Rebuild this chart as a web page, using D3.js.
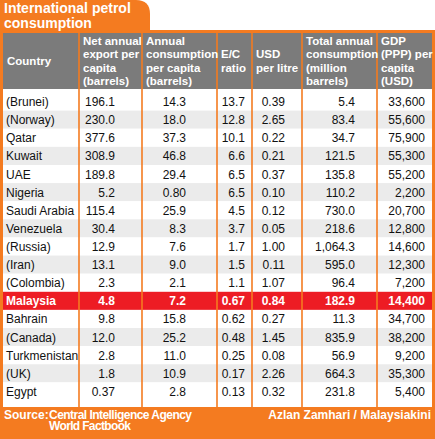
<!DOCTYPE html>
<html><head><meta charset="utf-8">
<script src="https://cdn.jsdelivr.net/npm/d3@7"></script>
<style>body{margin:0;background:#fff}text{font-family:"Liberation Sans",Arial,sans-serif}</style>
</head><body><div id="chart"></div>
<script>
const countries = ["(Brunei)","(Norway)","Qatar","Kuwait","UAE","Nigeria","Saudi Arabia","Venezuela","(Russia)","(Iran)","(Colombia)","Malaysia","Bahrain","(Canada)","Turkmenistan","(UK)","Egypt"]
const netExport = ["196.1","230.0","377.6","308.9","189.8","5.2","115.4","30.4","12.9","13.1","2.3","4.8","9.8","12.0","2.8","1.8","0.37"]
const consumption = ["14.3","18.0","37.3","46.8","29.4","0.80","25.9","8.3","7.6","9.0","2.1","7.2","15.8","25.2","11.0","10.9","2.8"]
const ecRatio = ["13.7","12.8","10.1","6.6","6.5","6.5","4.5","3.7","1.7","1.5","1.1","0.67","0.62","0.48","0.25","0.17","0.13"]
const usdLitre = ["0.39","2.65","0.22","0.21","0.37","0.10","0.12","0.05","1.00","0.11","1.07","0.84","0.27","1.45","0.08","2.26","0.32"]
const totalCons = ["5.4","83.4","34.7","121.5","135.8","110.2","730.0","218.6","1,064.3","595.0","96.4","182.9","11.3","835.9","56.9","664.3","231.8"]
const gdp = ["33,600","55,600","75,900","55,300","55,200","2,200","20,700","12,800","14,600","12,300","7,200","14,400","34,700","38,200","9,200","35,300","5,400"]
const headers = [["Country"],["Net annual","export per","capita","(barrels)"],["Annual","consumption","per capita","(barrels)"],["E/C","ratio"],["USD","per litre"],["Total annual","consumption","(million","barrels)"],["GDP","(PPP) per","capita","(USD)"]]
const columns = [countries, netExport, consumption, ecRatio, usdLitre, totalCons, gdp]

const W = 435, H = 439, orange = "#f47b20"
const colEdges = [3, 79, 142, 217, 252, 302, 377, 432]
const anchors = [6, 115, 186, 245, 285, 355, 425]
const y = d3.scaleBand().domain(d3.range(countries.length)).range([92.5, 400.5])

const svg = d3.select("#chart").append("svg").attr("width", W).attr("height", H)

// title tab + frame
svg.append("path").attr("fill", orange)
  .attr("d", "M0,0 H136 Q150,0 150,14 V34 H0 Z")
svg.append("rect").attr("x", 0).attr("y", 30).attr("width", W).attr("height", H - 30).attr("fill", orange)
svg.append("rect").attr("x", 3).attr("y", 33).attr("width", 429).attr("height", 374).attr("fill", "#fff")
svg.append("rect").attr("x", 3).attr("y", 33).attr("width", 429).attr("height", 56).attr("fill", "#7b7b7b")

svg.selectAll("text.title").data(["International petrol", "consumption"]).join("text")
  .attr("x", 4).attr("y", (d, i) => 13 + i * 15).attr("fill", "#fff")
  .attr("font-size", 14).attr("font-weight", "bold").text(d => d)

// row backgrounds
svg.selectAll("rect.row").data(countries).join("rect")
  .attr("x", 3).attr("width", 429).attr("y", (d, i) => y(i)).attr("height", y.bandwidth())
  .attr("fill", (d, i) => d === "Malaysia" ? "#ed1c24" : (i % 2 ? "#ebebeb" : "#fff"))

// column lines
svg.selectAll("line.col").data(colEdges.slice(1, -1)).join("line")
  .attr("x1", d => d).attr("x2", d => d).attr("y1", 33).attr("y2", 407)
  .attr("stroke", orange).attr("stroke-width", 1.6)

// headers
headers.forEach((lines, c) => {
  const n = lines.length, top = 61 - (n - 1) * 6.6
  svg.append("text").attr("x", colEdges[c] + 4).attr("fill", "#fff")
    .attr("font-size", 11.5).attr("font-weight", "bold")
    .selectAll("tspan").data(lines).join("tspan")
    .attr("x", colEdges[c] + 4).attr("y", (d, i) => top + 4 + i * 13.2).text(d => d)
})

// cells
columns.forEach((vals, c) => {
  svg.selectAll("text.c" + c).data(vals).join("text")
    .attr("x", anchors[c]).attr("y", (d, i) => y(i) + y.bandwidth() / 2 + 4.5)
    .attr("text-anchor", c === 0 ? "start" : "end")
    .attr("font-size", 12)
    .attr("font-weight", (d, i) => countries[i] === "Malaysia" ? "bold" : "normal")
    .attr("fill", (d, i) => countries[i] === "Malaysia" ? "#fff" : "#111")
    .text(d => d)
})

// footer
const foot = svg.append("g").attr("fill", "#fff").attr("font-size", 12).attr("font-weight", "bold")
foot.append("text").attr("x", 4).attr("y", 419).text("Source:")
foot.append("text").attr("x", 49).attr("y", 419).attr("textLength", 143).text("Central Intelligence Agency")
foot.append("text").attr("x", 49).attr("y", 430).attr("textLength", 82).text("World Factbook")
foot.append("text").attr("x", 431).attr("y", 419).attr("text-anchor", "end").text("Azlan Zamhari / Malaysiakini")
</script></body></html>
